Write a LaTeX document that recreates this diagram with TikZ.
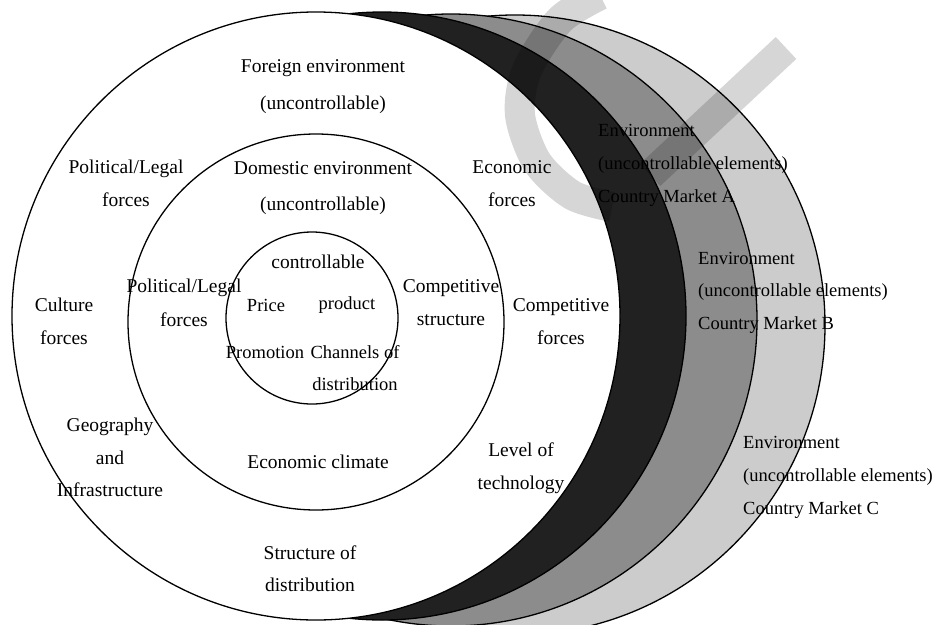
\documentclass[tikz,border=0pt]{standalone}
\usepackage{fontspec}
\setmainfont{Liberation Serif}
\begin{document}
\begin{tikzpicture}[x=1pt,y=-1pt,
  ring/.style={draw=black, line width=1.3pt},
  lbl/.style={font=\fontsize{19.5}{33}\selectfont, inner sep=0pt, align=center},
  core/.style={font=\fontsize{18.5}{32}\selectfont, inner sep=0pt, align=center},
  mkt/.style={font=\fontsize{18.5}{33}\selectfont, inner sep=0pt, align=left, anchor=west},
  mark band/.style={black!16, line width=30pt}]
\clip (0,0) rectangle (933,624);
\fill[white] (0,0) rectangle (933,624);

% country markets, farthest first; each one hides the previous
\filldraw[ring, fill=black!20] (515,325) circle[radius=310pt];
\filldraw[ring, fill=black!45] (451,320) circle[radius=306pt];
\filldraw[ring, fill=black!87] (382,316) circle[radius=304pt];
% home market rings
\filldraw[ring, fill=white] (316,316) circle[radius=304pt];
\draw[ring] (316,322) circle[radius=188pt];
\draw[ring] (312,318) circle[radius=86pt];

% faint logo laid over everything (multiply keeps dark areas dark)
\begin{scope}[blend mode=multiply]
  \draw[mark band] plot[smooth] coordinates {(600,-5) (560,20) (527,70) (520,115) (537,162) (572,195) (612,207)};
  \draw[mark band] (786,48) -- (650,175);
\end{scope}

% foreign environment
\node[lbl, font=\fontsize{19.5}{37}\selectfont] (foreign) at (323,86.5) {Foreign environment\\(uncontrollable)};
\node[lbl] (polout) at (126,183.5) {Political/Legal\\forces};
\node[lbl] (econ) at (512,183.5) {Economic\\forces};
\node[lbl] (culture) at (64,321.5) {Culture\\forces};
\node[lbl] (compout) at (561,321.5) {Competitive\\forces};
\node[lbl, font=\fontsize{19.5}{32.5}\selectfont] (geo) at (110,457.5) {Geography\\and\\Infrastructure};
\node[lbl] (tech) at (521,468.5) {Level of\\technology};
\node[lbl, font=\fontsize{19.5}{32}\selectfont] (struct) at (310,569) {Structure of\\distribution};

% domestic environment
\node[lbl, font=\fontsize{19.5}{36}\selectfont] (domestic) at (323,188) {Domestic environment\\(uncontrollable)};
\node[lbl, font=\fontsize{19.5}{34}\selectfont] (polin) at (184,303) {Political/Legal\\forces};
\node[lbl] (compin) at (451,303) {Competitive\\structure};
\node[lbl] (climate) at (318,462) {Economic climate};

% controllable core
\node[lbl] (ctrl) at (318,262) {controllable};
\node[core] (price) at (266,305) {Price};
\node[core] (product) at (347,305) {product};
\node[core] (promo) at (265,352) {Promotion};
\node[core] (channels) at (355,368) {Channels of\\distribution};

% country market labels
\node[mkt] (mktA) at (598,165) {Environment\\(uncontrollable elements)\\Country Market A};
\node[mkt, font=\fontsize{18.5}{32.5}\selectfont] (mktB) at (698,292.5) {Environment\\(uncontrollable elements)\\Country Market B};
\node[mkt] (mktC) at (743,477) {Environment\\(uncontrollable elements)\\Country Market C};
\end{tikzpicture}
\end{document}
